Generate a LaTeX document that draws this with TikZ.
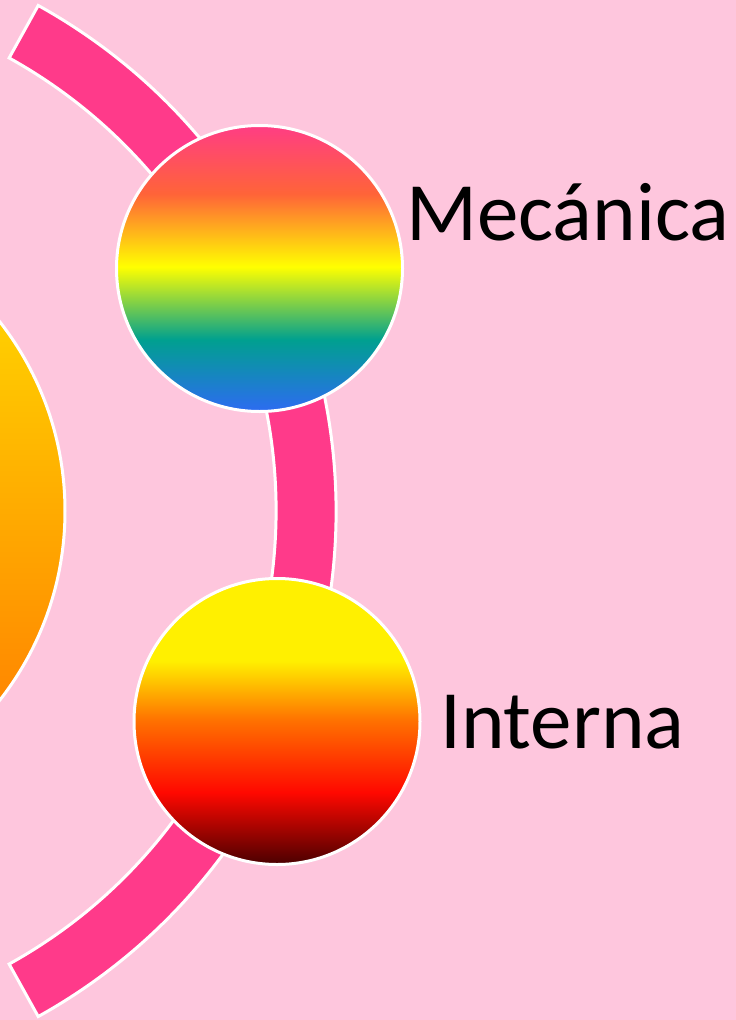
\documentclass[tikz,border=0pt]{standalone}
\usepackage{fontspec}
\setmainfont{Carlito}
\usetikzlibrary{calc}
\definecolor{bgpink}{HTML}{FEC6DD}
\definecolor{bandpink}{HTML}{FF3A8A}
\definecolor{rbpink}{HTML}{FF3D84}
\definecolor{rborange}{HTML}{FF6438}
\definecolor{rbyellow}{HTML}{FFFF00}
\definecolor{rbteal}{HTML}{00A08F}
\definecolor{rbblue}{HTML}{2D6BF2}
\definecolor{inyellow}{HTML}{FFF000}
\definecolor{inorange}{HTML}{FF7200}
\definecolor{inred}{HTML}{FF0800}
\definecolor{indark}{HTML}{4A0000}
\definecolor{bigtop}{HTML}{FFE400}
\definecolor{bigbot}{HTML}{FF7200}
\pgfdeclareverticalshading{rainbowsh}{100bp}{color(0bp)=(rbblue); color(25bp)=(rbblue); color(37.6bp)=(rbteal); color(50.3bp)=(rbyellow); color(63bp)=(rborange); color(75bp)=(rbpink); color(100bp)=(rbpink)}
\pgfdeclareverticalshading{firesh}{100bp}{color(0bp)=(indark); color(25bp)=(indark); color(37.6bp)=(inred); color(50.3bp)=(inorange); color(60.6bp)=(inyellow); color(75bp)=(inyellow); color(100bp)=(inyellow)}
\tikzset{
  ball/.style={circle, draw=white, line width=3pt, minimum size=286pt, inner sep=0pt},
  label text/.style={anchor=base west, inner sep=0pt, font=\fontsize{83}{100}\selectfont, text=black},
  bandstyle/.style={fill=bandpink, draw=white, line width=3pt, line join=miter}
}
\begin{document}
\begin{tikzpicture}[x=1pt, y=-1pt]
\useasboundingbox (0,0) rectangle (736,1020);
\fill[bgpink] (0,0) rectangle (736,1020);
\coordinate (C) at (-242,511);
% band arc
\draw[bandstyle] ($(C)+(-61:578)$) arc[start angle=-61, end angle=61, radius=578]
  -- ($(C)+(61:518)$) arc[start angle=61, end angle=-61, radius=518] -- cycle;
% big circle
\node[circle, draw=white, line width=3pt, minimum size=614pt, inner sep=0pt,
  top color=bigtop, bottom color=bigbot] (big) at (C) {};
% circles
\node[ball, shading=rainbowsh] (mec) at (259.5,268.5) {};
\node[ball, shading=firesh] (int) at (277,721.5) {};
% labels
\node[label text] (mectext) at (406,240) {Mecánica};
\node[label text] (inttext) at (440,748) {Interna};
\end{tikzpicture}
\end{document}
